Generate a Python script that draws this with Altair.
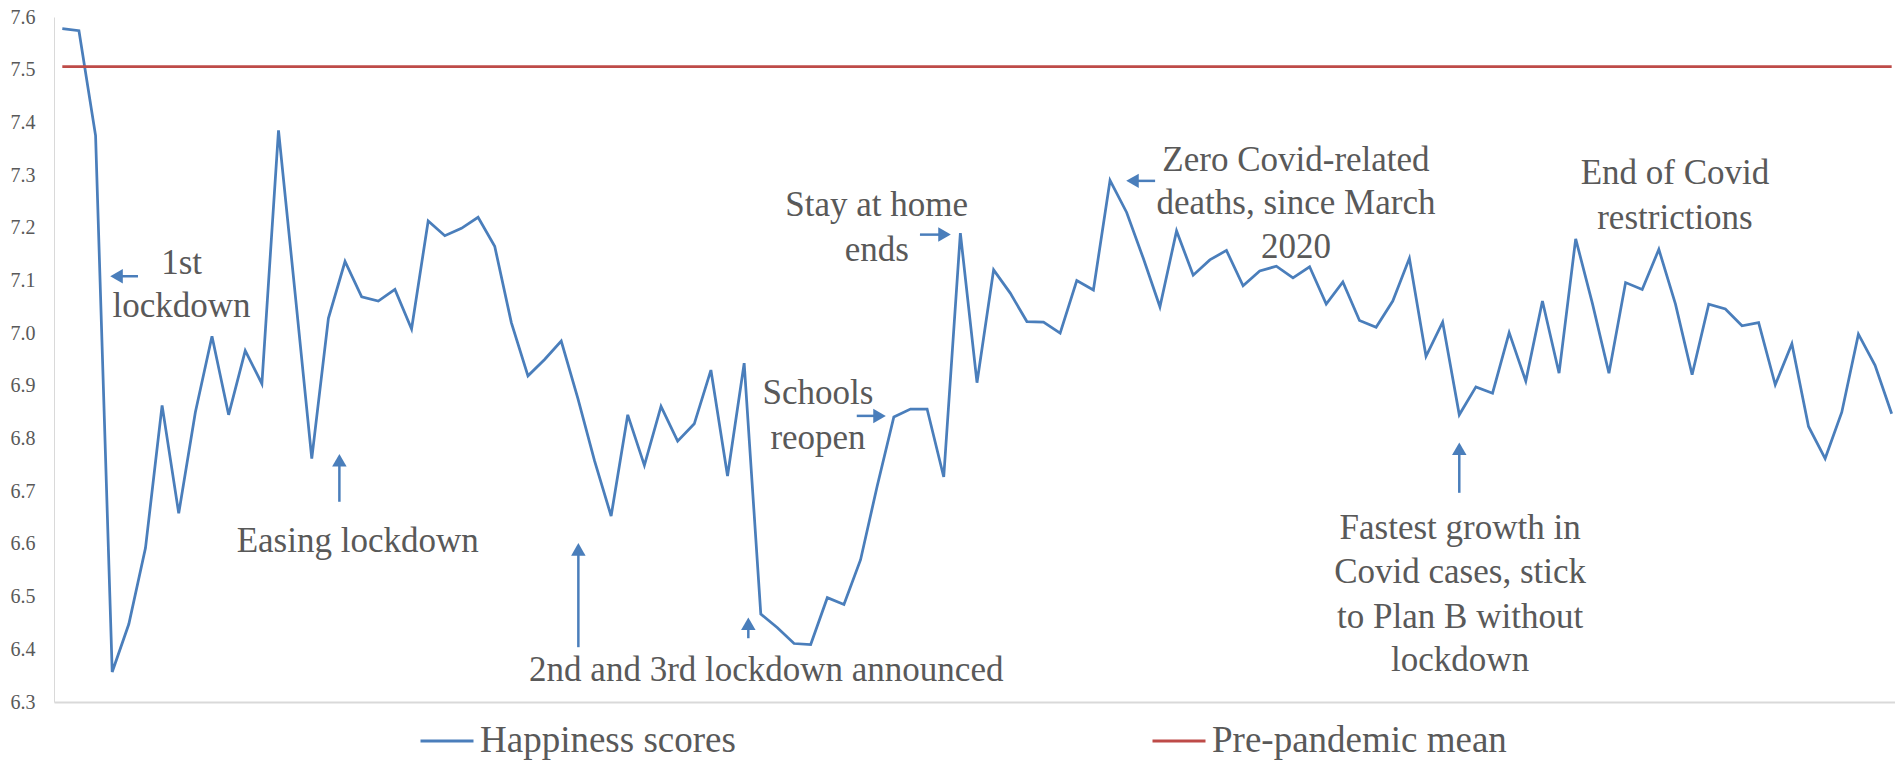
import altair as alt
import pandas as pd

# Weekly happiness scores (0-10 scale), one value per survey week
happiness = [
    7.578, 7.574, 7.375, 6.357, 6.448, 6.592, 6.863, 6.658, 6.850, 6.994,
    6.845, 6.967, 6.904, 7.385, 7.075, 6.762, 7.028, 7.136, 7.069, 7.061,
    7.083, 7.008, 7.213, 7.185, 7.199, 7.220, 7.165, 7.020, 6.919, 6.950,
    6.985, 6.876, 6.758, 6.653, 6.845, 6.749, 6.861, 6.795, 6.828, 6.930,
    6.729, 6.943, 6.467, 6.441, 6.411, 6.409, 6.498, 6.485, 6.570, 6.710,
    6.841, 6.856, 6.856, 6.727, 7.190, 6.906, 7.120, 7.076, 7.022, 7.021,
    7.000, 7.100, 7.082, 7.290, 7.229, 7.142, 7.050, 7.194, 7.110, 7.139,
    7.157, 7.090, 7.118, 7.127, 7.105, 7.126, 7.055, 7.097, 7.024, 7.011,
    7.061, 7.142, 6.956, 7.021, 6.845, 6.898, 6.886, 7.001, 6.909, 7.061,
    6.924, 7.179, 7.057, 6.924, 7.096, 7.083, 7.159, 7.055, 6.921, 7.055,
    7.046, 7.014, 7.020, 6.902, 6.980, 6.823, 6.762, 6.850, 6.998, 6.939,
    6.847,
]
pre_pandemic_mean = 7.506

series_names = ["Happiness scores", "Pre-pandemic mean"]
series_colors = ["#4a7ebb", "#be4b48"]
y_ticks = [round(6.3 + 0.1 * i, 1) for i in range(14)]

# Event notes: one row per text line, placed in (week, score) units
note_text = [
    "1st", "lockdown",
    "Easing lockdown",
    "2nd and 3rd lockdown announced",
    "Schools", "reopen",
    "Stay at home", "ends",
    "Zero Covid-related", "deaths, since March", "2020",
    "End of Covid", "restrictions",
    "Fastest growth in", "Covid cases, stick", "to Plan B without", "lockdown",
]
note_week = [
    7.17, 7.17,
    17.76,
    42.33,
    45.44, 45.44,
    48.97, 48.97,
    74.18, 74.18, 74.18,
    96.97, 96.97,
    84.05, 84.05, 84.05, 84.05,
]
note_score = [
    7.133, 7.051,
    6.606,
    6.361,
    6.886, 6.801,
    7.244, 7.157,
    7.329, 7.247, 7.163,
    7.304, 7.218,
    6.631, 6.546, 6.461, 6.379,
]

# Pointer arrows: direction, tail (week, score) and tip (week, score)
arrow_dir = ["left", "up", "up", "up", "right", "right", "left", "up"]
arrow_week0 = [4.55, 16.66, 31.03, 41.25, 47.77, 51.57, 65.71, 84.00]
arrow_score0 = [7.108, 6.680, 6.404, 6.421, 6.843, 7.187, 7.289, 6.697]
arrow_week1 = [2.87, 16.66, 31.03, 41.25, 49.53, 53.44, 63.96, 84.00]
arrow_score1 = [7.108, 6.771, 6.602, 6.461, 6.843, 7.187, 7.289, 6.793]

FONT = "Liberation Serif, Tinos, Times New Roman, DejaVu Serif, serif"
TEXT_GREY = "#595959"
AXIS_GREY = "#d9d9d9"
ARROW_BLUE = "#4a7ebb"

n = len(happiness)
series_df = pd.DataFrame({
    "week": list(range(n)) * 2,
    "series": [series_names[0]] * n + [series_names[1]] * n,
    "score": happiness + [pre_pandemic_mean] * n,
})
notes_df = pd.DataFrame({"label": note_text, "week": note_week, "score": note_score})
arrows_df = pd.DataFrame({
    "dir": arrow_dir,
    "w0": arrow_week0, "s0": arrow_score0,
    "w1": arrow_week1, "s1": arrow_score1,
})

x_scale = alt.Scale(domain=[-0.5, 110.2], nice=False, zero=False)
y_scale = alt.Scale(domain=[6.3, 7.6], nice=False, zero=False)

lines = alt.Chart(series_df).mark_line(strokeWidth=2.75).encode(
    x=alt.X("week:Q", scale=x_scale, title=None,
            axis=alt.Axis(labels=False, ticks=False, grid=False,
                          domainColor=AXIS_GREY, domainWidth=2)),
    y=alt.Y("score:Q", scale=y_scale, title=None,
            axis=alt.Axis(values=y_ticks, format=".1f", grid=False, ticks=False,
                          tickSize=0, labelPadding=19, labelFont=FONT,
                          labelFontSize=20, labelColor=TEXT_GREY,
                          domainColor=AXIS_GREY, domainWidth=1)),
    color=alt.Color("series:N",
                    scale=alt.Scale(domain=series_names, range=series_colors),
                    legend=alt.Legend(orient="none", legendX=365, legendY=696,
                                      direction="horizontal", title=None,
                                      symbolType="stroke", symbolSize=2809,
                                      symbolStrokeWidth=3, labelFont=FONT,
                                      labelFontSize=37, labelColor=TEXT_GREY,
                                      labelOffset=5, columnPadding=410,
                                      padding=0, labelLimit=0)),
)

notes = alt.Chart(notes_df).mark_text(
    font=FONT, fontSize=35, color=TEXT_GREY, align="center", baseline="middle"
).encode(
    x=alt.X("week:Q", scale=x_scale, title=None),
    y=alt.Y("score:Q", scale=y_scale, title=None),
    text="label:N",
)


def arrow_layers(direction, shape, dx, dy):
    base = alt.Chart(arrows_df).transform_filter(alt.datum.dir == direction)
    shaft = base.mark_rule(color=ARROW_BLUE, strokeWidth=2.5,
                           x2Offset=dx, y2Offset=dy).encode(
        x=alt.X("w0:Q", scale=x_scale, title=None),
        y=alt.Y("s0:Q", scale=y_scale, title=None),
        x2="w1:Q",
        y2="s1:Q",
    )
    head = base.mark_point(shape=shape, filled=True, size=210, opacity=1,
                           color=ARROW_BLUE, xOffset=dx, yOffset=dy).encode(
        x=alt.X("w1:Q", scale=x_scale, title=None),
        y=alt.Y("s1:Q", scale=y_scale, title=None),
    )
    return [shaft, head]


arrow_marks = (
    arrow_layers("left", "triangle-left", 6.5, 0)
    + arrow_layers("right", "triangle-right", -6.5, 0)
    + arrow_layers("up", "triangle-up", 0, 6.5)
)

chart = alt.layer(lines, notes, *arrow_marks).properties(
    width=1841,
    height=685,
    padding={"left": 54, "top": 17, "right": 0, "bottom": 63},
    autosize=alt.AutoSizeParams(type="none"),
).configure_view(strokeWidth=0)

chart.save("out.html", embed_options={"renderer": "svg", "actions": False})
